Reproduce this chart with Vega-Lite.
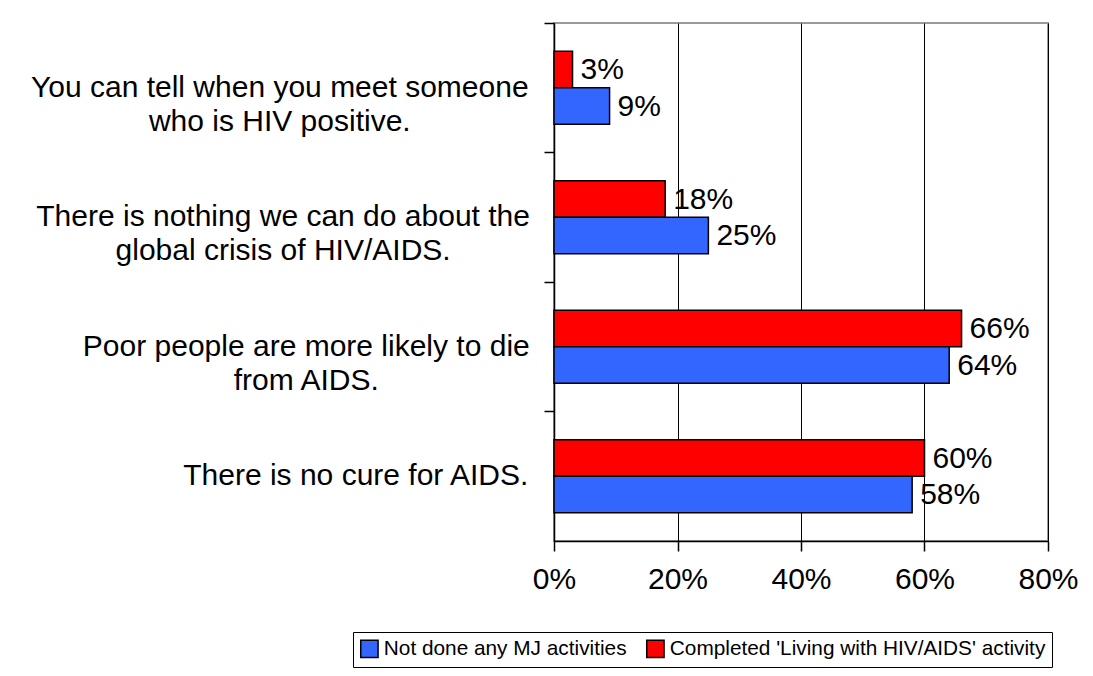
{
  "$schema": "https://vega.github.io/schema/vega-lite/v6.json",
  "width": 494,
  "height": 518,
  "autosize": "none",
  "padding": {"left": 554, "top": 23, "right": 45, "bottom": 135},
  "background": "white",
  "config": {
    "font": "Liberation Sans",
    "view": {"stroke": "#9a9a9a", "strokeWidth": 2}
  },
  "data": {
    "values": [
      {"statement": "You can tell when you meet someone\nwho is HIV positive.", "group": "Completed 'Living with HIV/AIDS' activity", "share": 0.03},
      {"statement": "You can tell when you meet someone\nwho is HIV positive.", "group": "Not done any MJ activities", "share": 0.09},
      {"statement": "There is nothing we can do about the\nglobal crisis of HIV/AIDS.", "group": "Completed 'Living with HIV/AIDS' activity", "share": 0.18},
      {"statement": "There is nothing we can do about the\nglobal crisis of HIV/AIDS.", "group": "Not done any MJ activities", "share": 0.25},
      {"statement": "Poor people are more likely to die\nfrom AIDS.", "group": "Completed 'Living with HIV/AIDS' activity", "share": 0.66},
      {"statement": "Poor people are more likely to die\nfrom AIDS.", "group": "Not done any MJ activities", "share": 0.64},
      {"statement": "There is no cure for AIDS.", "group": "Completed 'Living with HIV/AIDS' activity", "share": 0.60},
      {"statement": "There is no cure for AIDS.", "group": "Not done any MJ activities", "share": 0.58}
    ]
  },
  "encoding": {
    "y": {
      "field": "statement",
      "type": "nominal",
      "sort": null,
      "scale": {"paddingInner": 0, "paddingOuter": 0},
      "axis": {
        "title": null,
        "domainColor": "black",
        "domainWidth": 1.5,
        "bandPosition": 0,
        "tickColor": "black",
        "tickWidth": 1.5,
        "tickSize": 10,
        "labelFontSize": 30,
        "labelColor": "black",
        "labelAlign": "center",
        "labelBaseline": "middle",
        "labelLineHeight": 34,
        "labelLimit": 0,
        "labelExpr": "split(datum.label, '\\n')",
        "labelPadding": {
          "condition": [
            {"test": "indexof(datum.value, 'You can') === 0", "value": 264.7},
            {"test": "indexof(datum.value, 'There is nothing') === 0", "value": 261.4},
            {"test": "indexof(datum.value, 'Poor people') === 0", "value": 238.2}
          ],
          "value": 188.7
        }
      }
    },
    "x": {
      "field": "share",
      "type": "quantitative",
      "scale": {"domain": [0, 0.8]},
      "axis": {
        "title": null,
        "values": [0, 0.2, 0.4, 0.6, 0.8],
        "format": ".0%",
        "grid": true,
        "gridColor": "black",
        "gridWidth": 1,
        "domainColor": "black",
        "domainWidth": 1.5,
        "tickColor": "black",
        "tickWidth": 1.5,
        "tickSize": 10,
        "labelFontSize": 30,
        "labelColor": "black",
        "labelPadding": 13,
        "labelFlush": false
      }
    }
  },
  "layer": [
    {
      "mark": {"type": "bar", "stroke": "black", "strokeWidth": 1.5},
      "encoding": {
        "yOffset": {
          "field": "group",
          "type": "nominal",
          "sort": "ascending",
          "scale": {"paddingInner": 0, "paddingOuter": 0.774}
        },
        "color": {
          "field": "group",
          "type": "nominal",
          "scale": {
            "domain": ["Not done any MJ activities", "Completed 'Living with HIV/AIDS' activity"],
            "range": ["#3366ff", "#ff0000"]
          },
          "legend": {
            "orient": "none",
            "legendX": -201,
            "legendY": 609,
            "direction": "horizontal",
            "title": null,
            "strokeColor": "black",
            "fillColor": "white",
            "padding": 6,
            "labelFontSize": 20.8,
            "labelColor": "black",
            "labelLimit": 0,
            "symbolType": "square",
            "symbolSize": 300,
            "symbolStrokeColor": "black",
            "symbolStrokeWidth": 1.5,
            "columnPadding": 16
          }
        }
      }
    },
    {
      "transform": [{"filter": "datum.group === 'Not done any MJ activities'"}],
      "mark": {"type": "text", "align": "left", "baseline": "middle", "dx": 8, "fontSize": 30, "color": "black"},
      "encoding": {
        "y": {"field": "statement", "type": "nominal", "sort": null, "bandPosition": 0.647},
        "text": {"field": "share", "type": "quantitative", "format": ".0%"}
      }
    },
    {
      "transform": [{"filter": "datum.group !== 'Not done any MJ activities'"}],
      "mark": {"type": "text", "align": "left", "baseline": "middle", "dx": 8, "fontSize": 30, "color": "black"},
      "encoding": {
        "y": {"field": "statement", "type": "nominal", "sort": null, "bandPosition": 0.365},
        "text": {"field": "share", "type": "quantitative", "format": ".0%"}
      }
    }
  ]
}
